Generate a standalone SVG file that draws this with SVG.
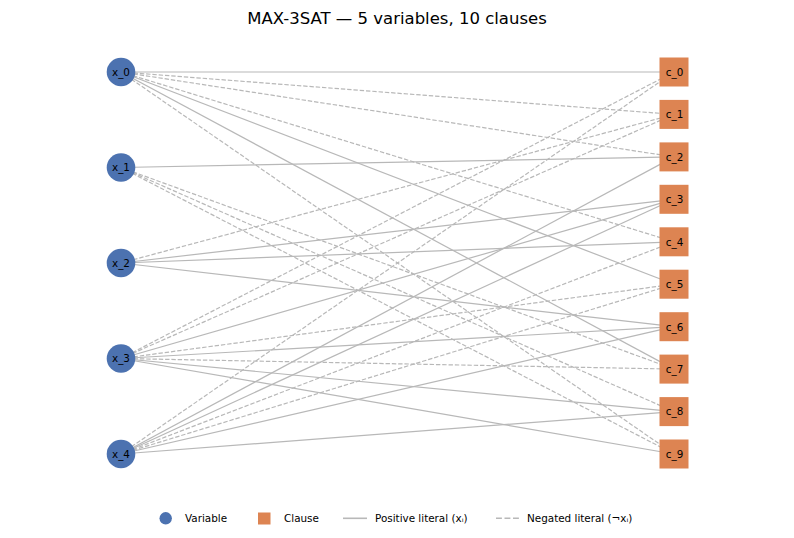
<svg xmlns="http://www.w3.org/2000/svg" width="794" height="538" viewBox="0 0 794 538">
<style>
text{font-family:"DejaVu Sans",sans-serif;fill:#000}
.t{font-size:16.5px}
.l{font-size:10.4px}
.v{fill:#4c72b0}
.c{fill:#dd8452}
.e{stroke:#b8b8b8;stroke-width:1.2;fill:none}
.n{stroke-dasharray:4.4 1.9}
.h{stroke:#b8b8b8;stroke-width:1.6;fill:none}
.hn{stroke-dasharray:5.9 2.6}
</style>
<rect width="794" height="538" fill="#fff"/>
<text class="t" x="397" y="24" text-anchor="middle">MAX-3SAT — 5 variables, 10 clauses</text>
<g id="edges">
<line class="e" x1="121" y1="72" x2="674" y2="72"/>
<line class="e n" x1="121" y1="72" x2="674" y2="114.4"/>
<line class="e n" x1="121" y1="72" x2="674" y2="156.9"/>
<line class="e n" x1="121" y1="72" x2="674" y2="241.8"/>
<line class="e" x1="121" y1="72" x2="674" y2="284.2"/>
<line class="e" x1="121" y1="72" x2="674" y2="369.1"/>
<line class="e n" x1="121" y1="72" x2="674" y2="454"/>
<line class="e" x1="121" y1="167.5" x2="674" y2="156.9"/>
<line class="e n" x1="121" y1="167.5" x2="674" y2="369.1"/>
<line class="e n" x1="121" y1="167.5" x2="674" y2="411.6"/>
<line class="e n" x1="121" y1="167.5" x2="674" y2="454"/>
<line class="e n" x1="121" y1="263" x2="674" y2="114.4"/>
<line class="e" x1="121" y1="263" x2="674" y2="199.3"/>
<line class="e" x1="121" y1="263" x2="674" y2="241.8"/>
<line class="e" x1="121" y1="263" x2="674" y2="326.7"/>
<line class="e n" x1="121" y1="358.5" x2="674" y2="72"/>
<line class="e n" x1="121" y1="358.5" x2="674" y2="114.4"/>
<line class="e" x1="121" y1="358.5" x2="674" y2="199.3"/>
<line class="e n" x1="121" y1="358.5" x2="674" y2="284.2"/>
<line class="e" x1="121" y1="358.5" x2="674" y2="326.7"/>
<line class="e n" x1="121" y1="358.5" x2="674" y2="369.1"/>
<line class="e" x1="121" y1="358.5" x2="674" y2="411.6"/>
<line class="e" x1="121" y1="358.5" x2="674" y2="454"/>
<line class="e n" x1="121" y1="454" x2="674" y2="72"/>
<line class="e" x1="121" y1="454" x2="674" y2="156.9"/>
<line class="e" x1="121" y1="454" x2="674" y2="199.3"/>
<line class="e n" x1="121" y1="454" x2="674" y2="241.8"/>
<line class="e n" x1="121" y1="454" x2="674" y2="284.2"/>
<line class="e" x1="121" y1="454" x2="674" y2="326.7"/>
<line class="e" x1="121" y1="454" x2="674" y2="411.6"/>
</g>
<g id="x_0"><circle class="v" cx="121" cy="72" r="14.3"/><text class="l" x="121" y="75.8" text-anchor="middle">x_0</text></g>
<g id="x_1"><circle class="v" cx="121" cy="167.5" r="14.3"/><text class="l" x="121" y="171.3" text-anchor="middle">x_1</text></g>
<g id="x_2"><circle class="v" cx="121" cy="263" r="14.3"/><text class="l" x="121" y="266.8" text-anchor="middle">x_2</text></g>
<g id="x_3"><circle class="v" cx="121" cy="358.5" r="14.3"/><text class="l" x="121" y="362.3" text-anchor="middle">x_3</text></g>
<g id="x_4"><circle class="v" cx="121" cy="454" r="14.3"/><text class="l" x="121" y="457.8" text-anchor="middle">x_4</text></g>
<g id="c_0"><rect class="c" x="659.5" y="57.5" width="29" height="29"/><text class="l" x="674.5" y="75.8" text-anchor="middle">c_0</text></g>
<g id="c_1"><rect class="c" x="659.5" y="99.9" width="29" height="29"/><text class="l" x="674.5" y="118.2" text-anchor="middle">c_1</text></g>
<g id="c_2"><rect class="c" x="659.5" y="142.4" width="29" height="29"/><text class="l" x="674.5" y="160.7" text-anchor="middle">c_2</text></g>
<g id="c_3"><rect class="c" x="659.5" y="184.8" width="29" height="29"/><text class="l" x="674.5" y="203.1" text-anchor="middle">c_3</text></g>
<g id="c_4"><rect class="c" x="659.5" y="227.3" width="29" height="29"/><text class="l" x="674.5" y="245.6" text-anchor="middle">c_4</text></g>
<g id="c_5"><rect class="c" x="659.5" y="269.7" width="29" height="29"/><text class="l" x="674.5" y="288" text-anchor="middle">c_5</text></g>
<g id="c_6"><rect class="c" x="659.5" y="312.2" width="29" height="29"/><text class="l" x="674.5" y="330.5" text-anchor="middle">c_6</text></g>
<g id="c_7"><rect class="c" x="659.5" y="354.6" width="29" height="29"/><text class="l" x="674.5" y="372.9" text-anchor="middle">c_7</text></g>
<g id="c_8"><rect class="c" x="659.5" y="397.1" width="29" height="29"/><text class="l" x="674.5" y="415.4" text-anchor="middle">c_8</text></g>
<g id="c_9"><rect class="c" x="659.5" y="439.5" width="29" height="29"/><text class="l" x="674.5" y="457.8" text-anchor="middle">c_9</text></g>
<g id="legend">
<circle class="v" cx="165.7" cy="518.3" r="6.2"/>
<text class="l" x="185" y="522">Variable</text>
<rect class="c" x="258" y="512.5" width="12.5" height="12"/>
<text class="l" x="284" y="522">Clause</text>
<line class="h" x1="343" y1="518.3" x2="367" y2="518.3"/>
<text class="l" x="375" y="522">Positive literal (xᵢ)</text>
<line class="h hn" x1="496" y1="518.3" x2="520" y2="518.3"/>
<text class="l" x="527" y="522">Negated literal (¬xᵢ)</text>
</g>
</svg>
